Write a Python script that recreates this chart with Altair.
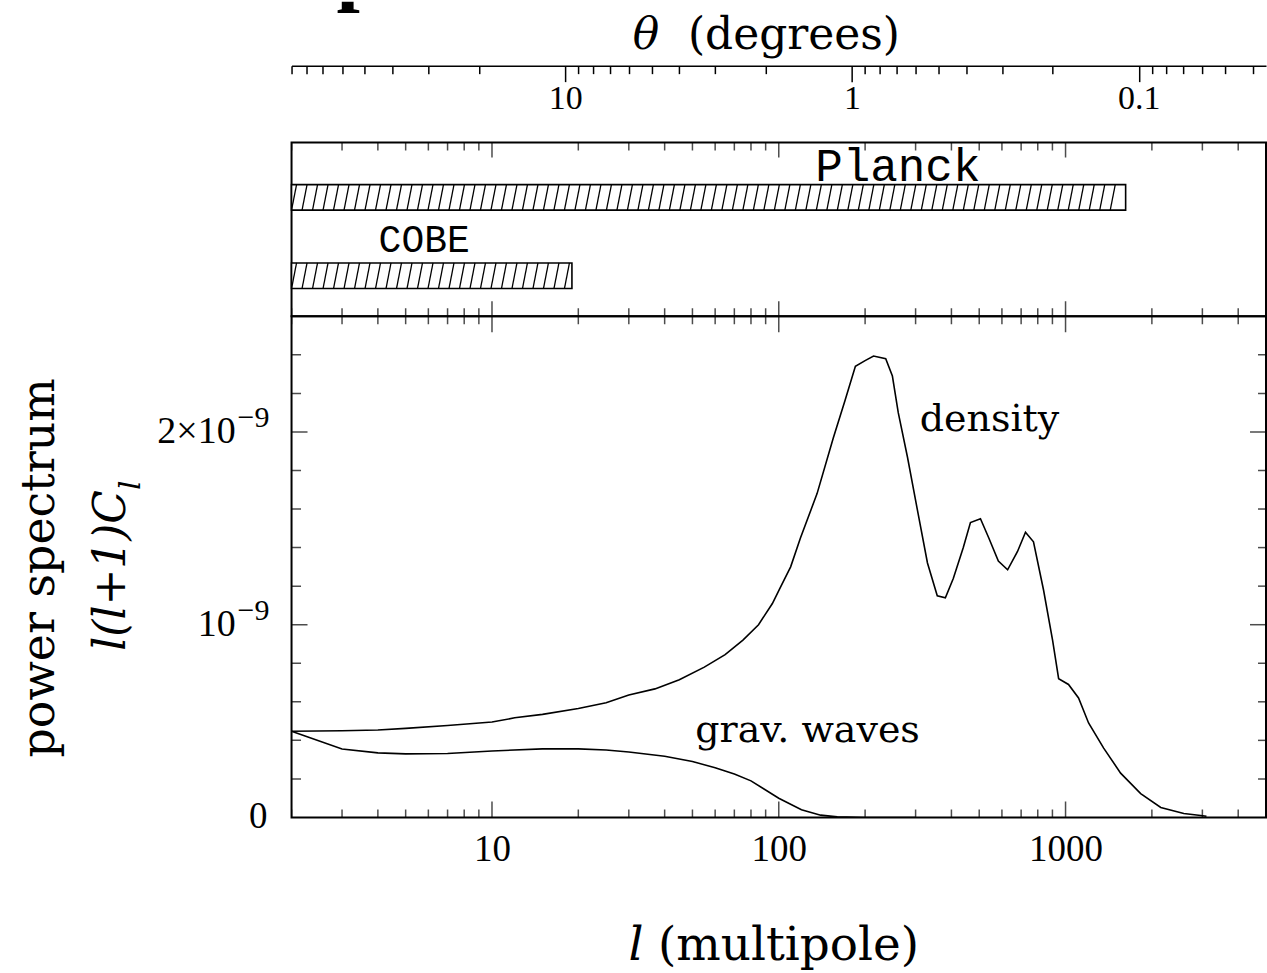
import altair as alt
import pandas as pd
import numpy as np

# ---------------- data ----------------
density_l = [2, 3, 4, 5, 7, 10, 12, 15, 20, 25, 30, 37, 45, 55, 65, 75, 85, 95, 101, 110,
             119, 136, 155, 170, 185, 200, 214, 236, 249, 261, 281, 304, 330, 357, 381, 406,
             440, 466, 505, 540, 583, 628, 680, 725, 773, 838, 901, 946, 1024, 1110, 1203,
             1358, 1556, 1828, 2148, 2584, 2960, 3100]
density_v = [0.447, 0.450, 0.454, 0.462, 0.477, 0.495, 0.517, 0.535, 0.565, 0.595, 0.635,
             0.667, 0.715, 0.780, 0.845, 0.920, 1.00, 1.11, 1.19, 1.30, 1.45, 1.68, 1.97,
             2.16, 2.34, 2.37, 2.394, 2.38, 2.29, 2.10, 1.87, 1.60, 1.32, 1.15, 1.14, 1.24,
             1.40, 1.53, 1.55, 1.45, 1.33, 1.285, 1.38, 1.48, 1.43, 1.18, 0.92, 0.72, 0.69,
             0.62, 0.49, 0.36, 0.23, 0.124, 0.052, 0.021, 0.010, 0.006]   # x 1e-9

grav_l = [2, 3, 4, 5, 7, 10, 15, 20, 25, 30, 40, 50, 60, 70, 80, 100, 120, 140, 160, 200, 250, 300]
grav_v = [0.447, 0.355, 0.335, 0.330, 0.332, 0.345, 0.356, 0.356, 0.350, 0.340, 0.318, 0.290,
          0.258, 0.225, 0.190, 0.100, 0.040, 0.012, 0.003, 0.0, 0.0, 0.0]   # x 1e-9

exp_names = ["Planck", "COBE"]
exp_lmin = [2, 2]
exp_lmax = [1620, 19]
exp_label_l = [260, 5.8]
exp_label_font = [46, 38]
exp_label_dy = [-4, -11]

curve_labels = ["density", "grav. waves"]
curve_label_l = [543, 126]
curve_label_v = [2.06e-9, 0.45e-9]

x_major = [10, 100, 1000]
x_minor = [2, 3, 4, 5, 6, 7, 8, 9, 20, 30, 40, 50, 60, 70, 80, 90,
           200, 300, 400, 500, 600, 700, 800, 900, 2000, 3000, 4000]
y_major = [1e-9, 2e-9]
y_minor = [0.2e-9, 0.4e-9, 0.6e-9, 0.8e-9, 1.2e-9, 1.4e-9, 1.6e-9, 1.8e-9, 2.2e-9, 2.4e-9]
ylab_vals = [1e-9, 2e-9]
ylab_base = ["10", "2×10"]
ylab_exp = ["−9", "−9"]

theta_major = [10, 1, 0.1]
theta_minor = [90, 80, 70, 60, 50, 40, 30, 20, 9, 8, 7, 6, 5, 4, 3, 2,
               0.9, 0.8, 0.7, 0.6, 0.5, 0.4, 0.3, 0.2, 0.09, 0.08, 0.07, 0.06, 0.05, 0.04]

L_DOMAIN = [2, 5000]
Y_MAX = 2.6e-9
W = 976

xscale = alt.Scale(type="log", domain=L_DOMAIN, nice=False)
yscale = alt.Scale(domain=[0, Y_MAX], nice=False, zero=False)
ROW_TOP, ROW_BOT = -0.70, 1.517
rowscale = alt.Scale(domain=[ROW_TOP, ROW_BOT], reverse=True, nice=False, zero=False)
thscale = alt.Scale(type="log", domain=[180 / L_DOMAIN[1], 180 / L_DOMAIN[0]], reverse=True, nice=False)

SERIF = "DejaVu Serif"
NUM = "Liberation Serif"
MONO = "Liberation Mono"


def vticks(vals, size, edge, ysc):
    return alt.Chart(pd.DataFrame({"l": vals})).mark_tick(
        orient="vertical", size=size, thickness=1.5, color="black", clip=True
    ).encode(
        x=alt.X("l:Q", scale=xscale, axis=None),
        y=alt.YDatum(edge, type="quantitative", scale=ysc, axis=None),
    )


def hticks(vals, size, edge):
    return alt.Chart(pd.DataFrame({"v": vals})).mark_tick(
        orient="horizontal", size=size, thickness=1.5, color="black", clip=True
    ).encode(
        x=alt.XDatum(edge, type="quantitative", scale=xscale, axis=None),
        y=alt.Y("v:Q", scale=yscale, axis=None),
    )


def label(text, x, y, size, font=SERIF, style="normal", angle=0, align="center",
          baseline="alphabetic", clip=False, weight="normal"):
    return alt.Chart(pd.DataFrame({"t": [text]})).mark_text(
        align=align, baseline=baseline, font=font, fontSize=size, fontStyle=style,
        fontWeight=weight, angle=angle, color="black", clip=clip
    ).encode(x=alt.value(x), y=alt.value(y), text="t:N")


# ---------------- theta (degrees) axis strip ----------------
th_df = pd.DataFrame({"theta": theta_major + theta_minor})
th_test = " || ".join(f"datum.value == {v}" for v in theta_major)
th_axis = alt.Axis(
    orient="bottom", offset=-77, values=theta_major + theta_minor,
    labelExpr="datum.value == 10 ? '10' : datum.value == 1 ? '1' : datum.value == 0.1 ? '0.1' : ''",
    tickSize={"condition": {"test": th_test, "value": 16}, "value": 8},
    tickWidth=1.5, tickColor="black", domainColor="black", domainWidth=1.5,
    labelPadding=0, labelFont=NUM, labelFontSize=34, labelColor="black",
    labelOverlap=False, labelFlush=False, grid=False, title=None,
)
th_pts = alt.Chart(th_df).mark_point(opacity=0).encode(
    x=alt.X("theta:Q", scale=thscale, axis=th_axis)
)
theta_chart = alt.layer(
    th_pts,
    label("θ", 355, 47, 44, style="italic"),
    label("(degrees)", 397, 47, 44, align="left"),
    label("p", 45, -7, 84, font=NUM, align="left", clip=True, weight="bold"),
).properties(width=W, height=141, view=alt.ViewBackground(stroke="transparent"))

# ---------------- experiments panel ----------------
HALF = 0.163
bars_df = pd.DataFrame({
    "name": exp_names, "lmin": exp_lmin, "lmax": exp_lmax,
    "ytop": [i - HALF for i in range(len(exp_names))],
    "ybot": [i + HALF for i in range(len(exp_names))],
    "lab_l": exp_label_l,
})
HATCH_STEP = 0.0366   # decades between hatch lines
HATCH_SLANT = 0.0175  # decades of slant over the bar height
hrows = []
for i, (lo, hi) in enumerate(zip(exp_lmin, exp_lmax)):
    k = 0
    while True:
        a = lo * 10 ** (k * HATCH_STEP)
        b = a * 10 ** HATCH_SLANT
        if b > hi:
            break
        hrows.append({"l0": a, "l1": b, "yb": i + HALF, "yt": i - HALF})
        k += 1
hatch_df = pd.DataFrame(hrows)

bars = alt.Chart(bars_df).mark_rect(fill="white", stroke="black", strokeWidth=1.6).encode(
    x=alt.X("lmin:Q", scale=xscale, axis=None), x2="lmax:Q",
    y=alt.Y("ytop:Q", scale=rowscale, axis=None), y2="ybot:Q",
)
hatch = alt.Chart(hatch_df).mark_rule(color="black", strokeWidth=1.3).encode(
    x=alt.X("l0:Q", scale=xscale, axis=None), x2="l1:Q",
    y=alt.Y("yb:Q", scale=rowscale, axis=None), y2="yt:Q",
)
exp_texts = []
for i, name in enumerate(exp_names):
    exp_texts.append(
        alt.Chart(bars_df.iloc[[i]]).mark_text(
            font=MONO, fontSize=exp_label_font[i], align="center", baseline="alphabetic",
            dy=exp_label_dy[i], color="black"
        ).encode(
            x=alt.X("lab_l:Q", scale=xscale, axis=None),
            y=alt.Y("ytop:Q", scale=rowscale, axis=None),
            text="name:N",
        )
    )
top_panel = alt.layer(
    bars, hatch, *exp_texts,
    vticks(x_minor, 16, ROW_TOP, rowscale), vticks(x_major, 30, ROW_TOP, rowscale),
    vticks(x_minor, 16, ROW_BOT, rowscale), vticks(x_major, 30, ROW_BOT, rowscale),
).properties(width=W, height=174)

# ---------------- main power-spectrum panel ----------------
dens_df = pd.DataFrame({"l": density_l, "v": np.array(density_v) * 1e-9})
grav_df = pd.DataFrame({"l": grav_l, "v": np.array(grav_v) * 1e-9})

x_axis = alt.Axis(
    orient="bottom", values=x_major, labelExpr="format(datum.value, 'd')",
    ticks=False, domain=False, grid=False, labelPadding=14, labelFont=NUM,
    labelFontSize=37, labelColor="black", labelOverlap=False, labelFlush=False, title=None,
)
dens = alt.Chart(dens_df).mark_line(color="black", strokeWidth=1.6, clip=True).encode(
    x=alt.X("l:Q", scale=xscale, axis=x_axis),
    y=alt.Y("v:Q", scale=yscale, axis=None),
)
grav = alt.Chart(grav_df).mark_line(color="black", strokeWidth=1.6, clip=True).encode(
    x=alt.X("l:Q", scale=xscale, axis=None),
    y=alt.Y("v:Q", scale=yscale, axis=None),
)

ylab_df = pd.DataFrame({"v": ylab_vals, "base": ylab_base, "exp": ylab_exp})
ylab_b = alt.Chart(ylab_df).mark_text(
    align="right", baseline="alphabetic", font=NUM, fontSize=38, dy=11, color="black"
).encode(x=alt.value(-56), y=alt.Y("v:Q", scale=yscale, axis=None), text="base:N")
ylab_e = alt.Chart(ylab_df).mark_text(
    align="left", baseline="alphabetic", font=NUM, fontSize=30, dy=-5, color="black"
).encode(x=alt.value(-54), y=alt.Y("v:Q", scale=yscale, axis=None), text="exp:N")
zero_df = pd.DataFrame({"v": [0.0], "t": ["0"]})
ylab_0 = alt.Chart(zero_df).mark_text(
    align="right", baseline="alphabetic", font=NUM, fontSize=37, dy=11, color="black"
).encode(x=alt.value(-24), y=alt.Y("v:Q", scale=yscale, axis=None), text="t:N")

curve_df = pd.DataFrame({"t": curve_labels, "l": curve_label_l, "v": curve_label_v})
curve_txt = alt.Chart(curve_df).mark_text(
    font=SERIF, fontSize=38, align="center", baseline="middle", color="black"
).encode(x=alt.X("l:Q", scale=xscale, axis=None), y=alt.Y("v:Q", scale=yscale, axis=None), text="t:N")

main_panel = alt.layer(
    dens, grav,
    vticks(x_minor, 16, 0.0, yscale), vticks(x_major, 32, 0.0, yscale),
    vticks(x_minor, 16, Y_MAX, yscale), vticks(x_major, 32, Y_MAX, yscale),
    hticks(y_minor, 19, L_DOMAIN[0]), hticks(y_major, 32, L_DOMAIN[0]),
    hticks(y_minor, 16, L_DOMAIN[1]), hticks(y_major, 32, L_DOMAIN[1]),
    ylab_b, ylab_e, ylab_0, curve_txt,
    label("power spectrum", -252, 252, 46, angle=270, baseline="middle"),
    label("l(l+1)C", -180, 335, 44, style="italic", angle=270, align="left", baseline="middle"),
    label("l", -161, 174, 30, style="italic", angle=270, align="left", baseline="middle"),
    label("l", 345, 645, 47, style="italic"),
    label("(multipole)", 367, 645, 47, align="left"),
).resolve_axis(x="independent", y="independent").properties(width=W, height=502)

chart = alt.vconcat(
    theta_chart, top_panel, main_panel, spacing=0, bounds="flush"
).resolve_scale(
    x="independent", y="independent"
).configure_view(
    stroke="black", strokeWidth=2
).properties(
    padding={"left": 15, "top": 0, "right": 0, "bottom": 0}, background="white"
)

chart.save("out.html", embed_options={"renderer": "svg", "actions": False})
